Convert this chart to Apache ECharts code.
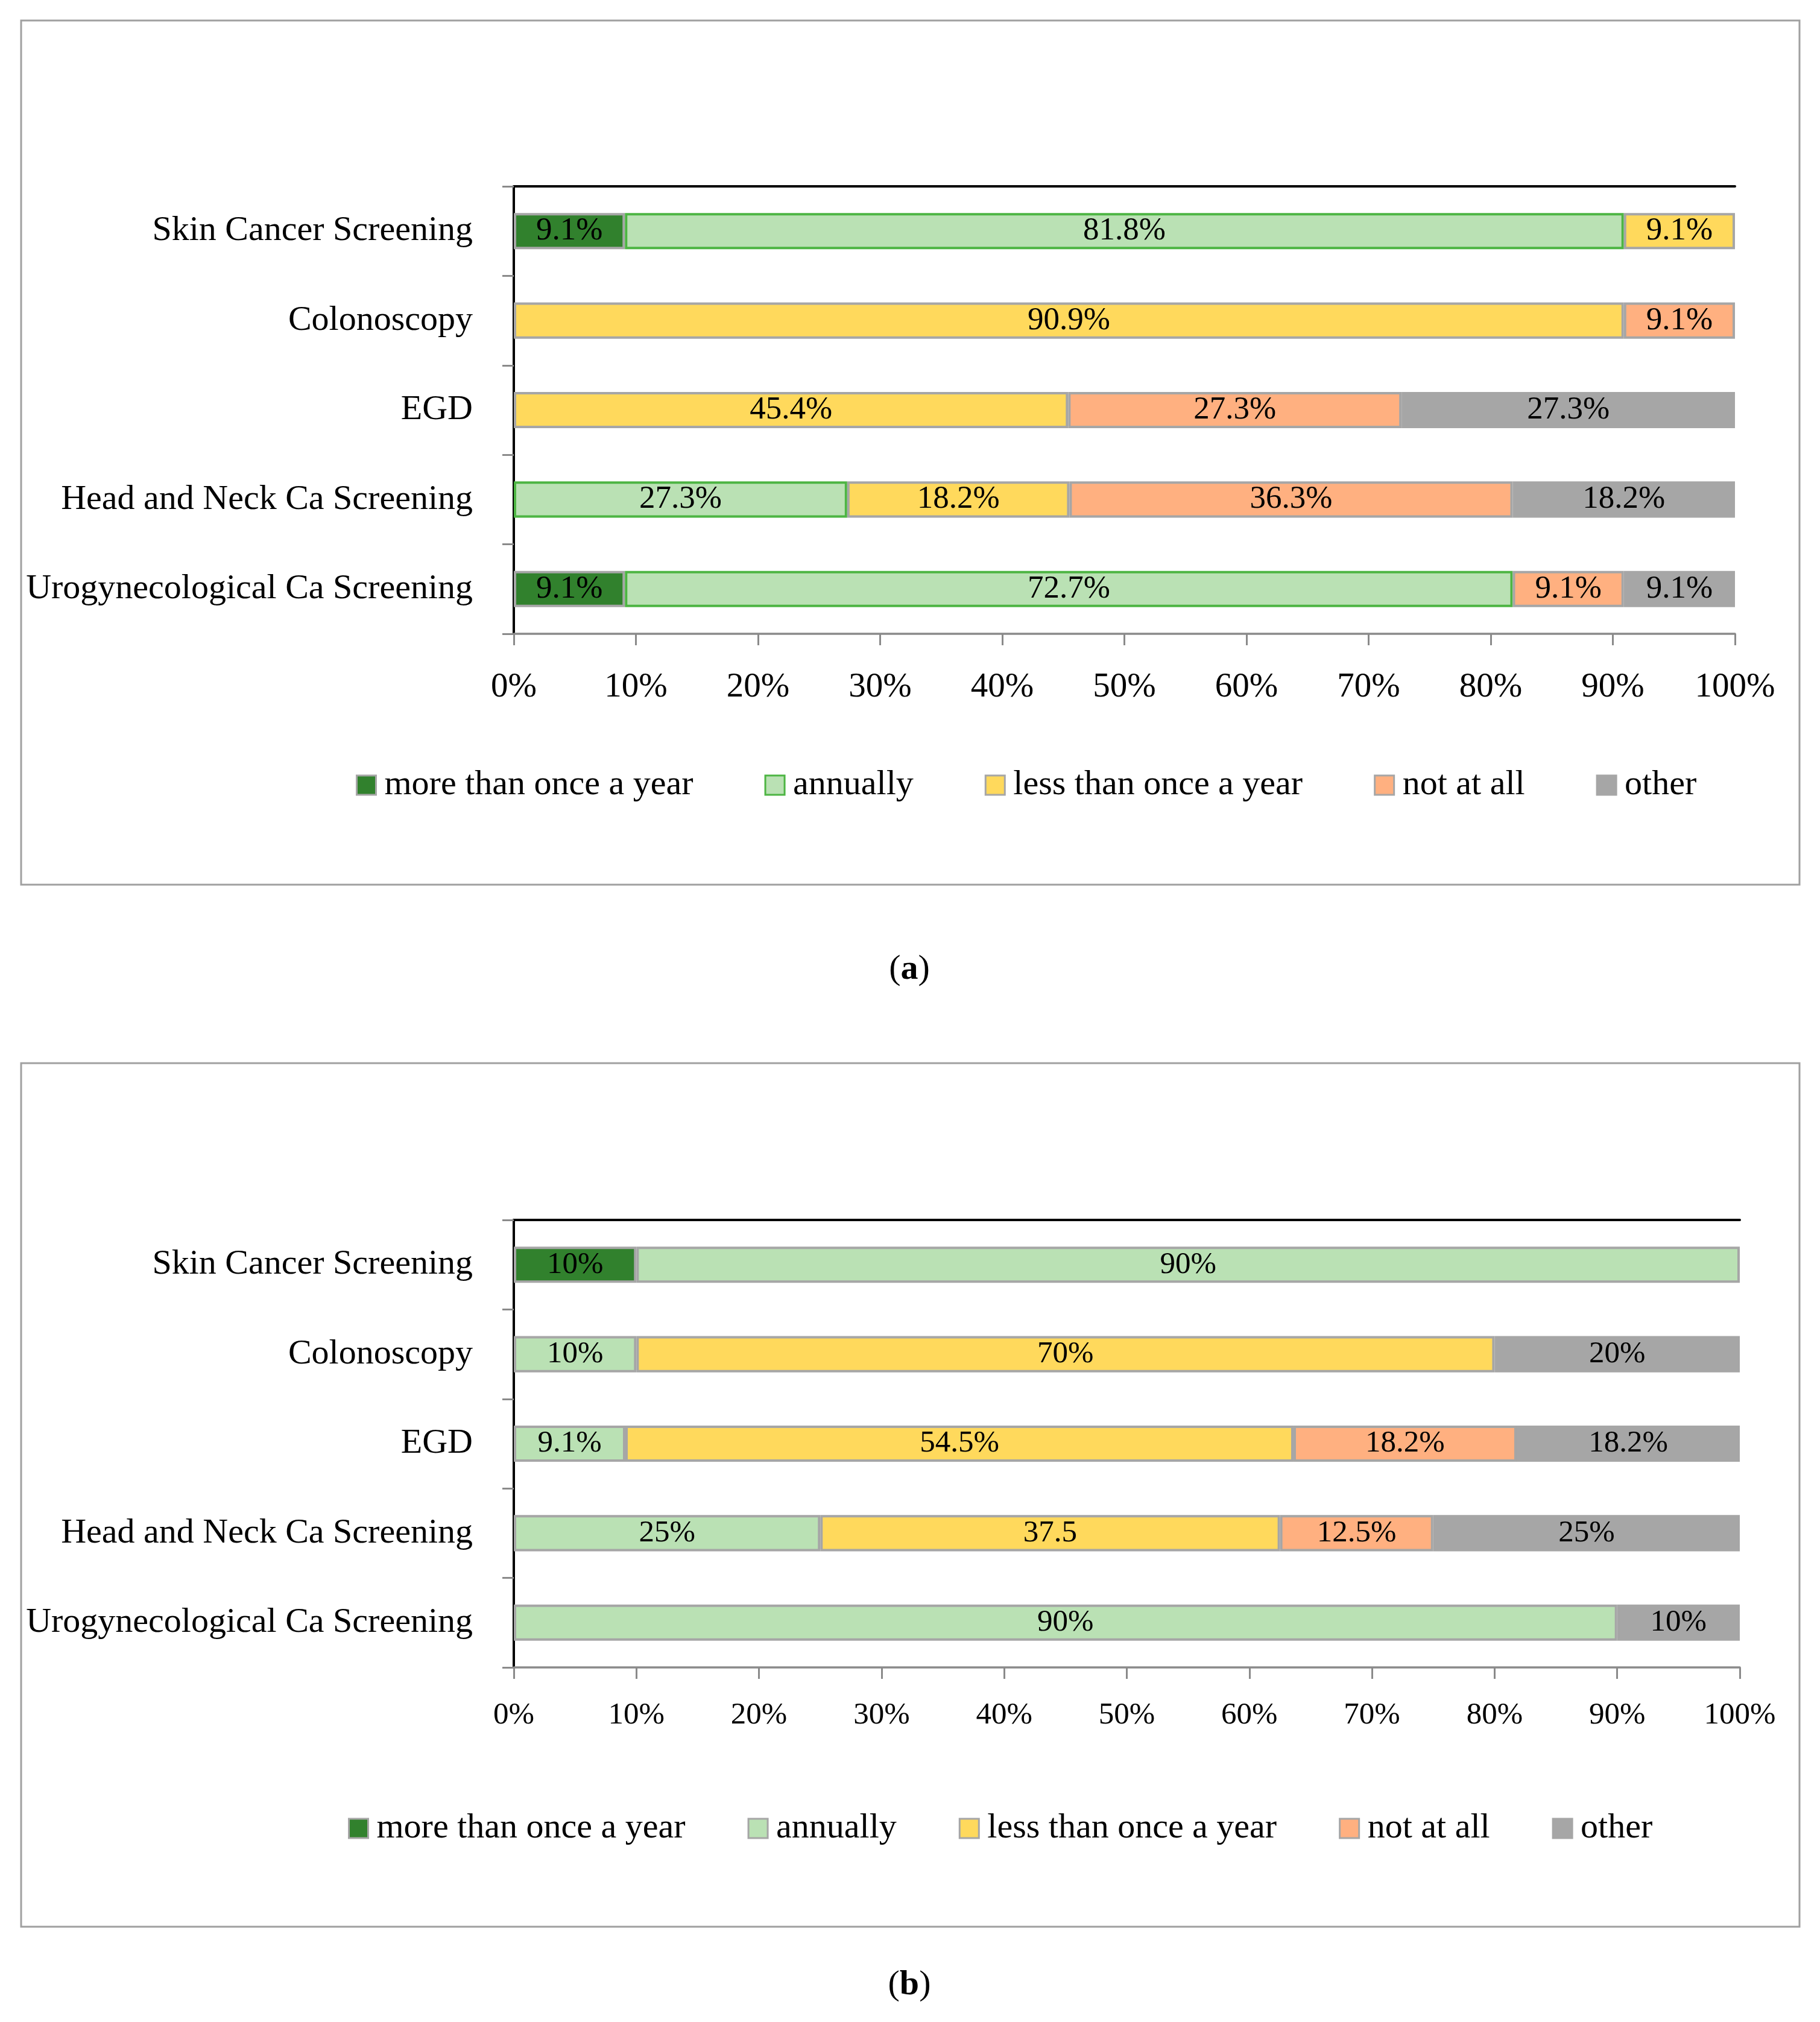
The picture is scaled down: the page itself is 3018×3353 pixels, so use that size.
<!DOCTYPE html>
<html><head><meta charset="utf-8">
<script src="https://cdn.jsdelivr.net/npm/echarts@6/dist/echarts.min.js"></script>
<style>html,body{margin:0;padding:0;background:#fff}#c{width:3018px;height:3353px}</style>
</head><body><div id="c"></div>
<script>
const categories = ['Skin Cancer Screening','Colonoscopy','EGD','Head and Neck Ca Screening','Urogynecological Ca Screening'];
const seriesNames = ['more than once a year','annually','less than once a year','not at all','other'];
const xTickValues = [0,10,20,30,40,50,60,70,80,90,100];

// Chart (a) values, % per category
const aMore     = [9.1, null, null, null, 9.1];
const aAnnually = [81.8, null, null, 27.3, 72.7];
const aLess     = [9.1, 90.9, 45.4, 18.2, null];
const aNot      = [null, 9.1, 27.3, 36.3, 9.1];
const aOther    = [null, null, 27.3, 18.2, 9.1];

// Chart (b) values, % per category
const bMore     = [10, null, null, null, null];
const bAnnually = [90, 10, 9.1, 25, 90];
const bLess     = [null, 70, 54.5, 37.5, null];
const bNot      = [null, null, 18.2, 12.5, null];
const bOther    = [null, 20, 18.2, 25, 10];
// labels printed without the % sign: [seriesIndex, categoryIndex]
const bNoPercent = [[2, 3]];

const FONT = 'Liberation Serif';
const colors = ['#31812d', '#bae1b4', '#ffd95c', '#ffb080', '#a6a6a6'];
const GRAY = '#a6a6a6';
const GREEN = '#4db543';
const AXIS = '#8a8a8a';

const chart = echarts.init(document.getElementById('c'));

function buildSeries(groups, gi, annBorder, labelSize, noPct) {
  return groups.map((arr, si) => ({
    name: seriesNames[si],
    type: 'bar',
    stack: 'g' + gi,
    xAxisIndex: gi * 2,
    yAxisIndex: gi * 2,
    barCategoryGap: '59.5%',
    data: arr.map(v => v == null ? '-' : v),
    itemStyle: {
      color: colors[si],
      borderColor: si === 1 ? annBorder : (si === 4 ? colors[4] : GRAY),
      borderWidth: 4
    },
    label: {
      show: true, position: 'inside', color: '#000',
      fontFamily: FONT, fontSize: labelSize,
      formatter: p => {
        const skip = noPct.some(e => e[0] === si && e[1] === p.dataIndex);
        return skip ? String(p.value) : p.value + '%';
      }
    },
    emphasis: { disabled: true }
  }));
}

function axesFor(gi, labelSize, labelMargin) {
  const x = [{
    type: 'value', gridIndex: gi, min: 0, max: 100, interval: 10, position: 'bottom',
    axisLine: { show: true, lineStyle: { color: AXIS, width: 3.5 } },
    axisTick: { show: true, length: 19, lineStyle: { color: AXIS, width: 3 } },
    axisLabel: { fontFamily: FONT, fontSize: labelSize, color: '#000', margin: labelMargin,
      formatter: v => xTickValues.includes(v) ? v + '%' : '' },
    splitLine: { show: false }
  }, {
    type: 'value', gridIndex: gi, min: 0, max: 100, position: 'top',
    axisLine: { show: true, lineStyle: { color: '#000', width: 4 } },
    axisTick: { show: false }, axisLabel: { show: false }, splitLine: { show: false }
  }];
  const y = [{
    type: 'category', gridIndex: gi, data: categories, inverse: true, position: 'left',
    axisLine: { show: true, lineStyle: { color: AXIS, width: 3.5 } },
    axisTick: { show: true, length: 19, lineStyle: { color: AXIS, width: 3 } },
    axisLabel: { fontFamily: FONT, fontSize: 58, color: '#000', margin: 68 }
  }, {
    type: 'category', gridIndex: gi, data: categories, inverse: true, position: 'right',
    axisLine: { show: true, lineStyle: { color: '#000', width: 4 } },
    axisTick: { show: false }, axisLabel: { show: false }
  }];
  return { x, y };
}

const axA = axesFor(0, 57, 61);
const axB = axesFor(1, 51, 54);

function legendFor(left, top, gap, annBorder) {
  return {
    left, top, itemWidth: 32, itemHeight: 32, itemGap: gap, icon: 'rect',
    selectedMode: false,
    textStyle: { fontFamily: FONT, fontSize: 58, color: '#000', padding: [0, 0, 0, 9] },
    data: seriesNames.map((n, i) => ({
      name: n,
      itemStyle: { color: colors[i], borderColor: i === 1 ? annBorder : GRAY, borderWidth: 3 }
    }))
  };
}

chart.setOption({
  animation: false,
  backgroundColor: '#fff',
  grid: [
    { left: 852, top: 309, width: 2025, height: 742, containLabel: false },
    { left: 852, top: 2023, width: 2033, height: 742, containLabel: false }
  ],
  xAxis: axA.x.concat(axB.x),
  yAxis: axA.y.concat(axB.y),
  legend: [
    legendFor(585, 1268, 118, GREEN),
    legendFor(572, 2998, 103, GRAY)
  ],
  series: buildSeries([aMore, aAnnually, aLess, aNot, aOther], 0, GREEN, 53, [])
    .concat(buildSeries([bMore, bAnnually, bLess, bNot, bOther], 1, GRAY, 51, bNoPercent)),
  graphic: [
    { type: 'rect', silent: true, shape: { x: 35, y: 34, width: 2949, height: 1433 },
      style: { fill: 'none', stroke: '#a0a0a0', lineWidth: 3 } },
    { type: 'rect', silent: true, shape: { x: 35, y: 1763, width: 2949, height: 1432 },
      style: { fill: 'none', stroke: '#a0a0a0', lineWidth: 3 } },
    { type: 'text', x: 1508, y: 1608, silent: true,
      style: { text: '{n|(}{b|a}{n|)}', align: 'center', verticalAlign: 'middle',
        rich: { n: { fontFamily: FONT, fontSize: 58, color: '#000' },
                b: { fontFamily: FONT, fontSize: 58, fontWeight: 'bold', color: '#000' } } } },
    { type: 'text', x: 1508, y: 3292, silent: true,
      style: { text: '{n|(}{b|b}{n|)}', align: 'center', verticalAlign: 'middle',
        rich: { n: { fontFamily: FONT, fontSize: 58, color: '#000' },
                b: { fontFamily: FONT, fontSize: 58, fontWeight: 'bold', color: '#000' } } } }
  ]
});
</script></body></html>
